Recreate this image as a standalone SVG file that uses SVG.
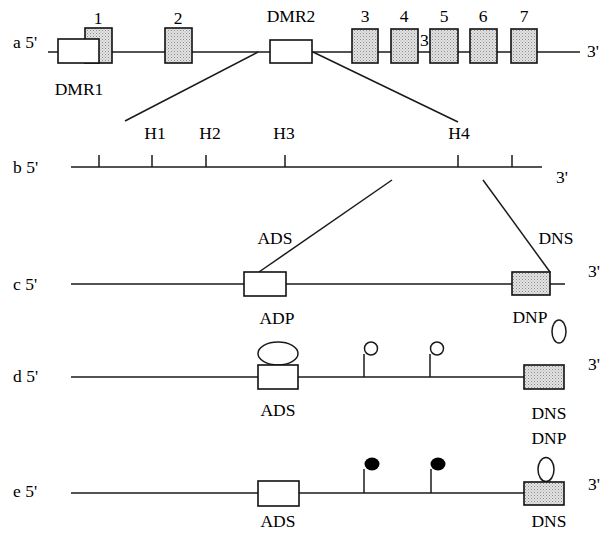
<svg xmlns="http://www.w3.org/2000/svg" width="611" height="533" viewBox="0 0 611 533">
<defs>
<pattern id="stip" width="3" height="3" patternUnits="userSpaceOnUse">
<rect width="3" height="3" fill="#e4e4e4"/>
<rect x="0" y="0" width="1" height="1" fill="#8a8a8a"/>
<rect x="1.5" y="1.5" width="1" height="1" fill="#a0a0a0"/>
</pattern>
</defs>
<style>
text{font-family:"Liberation Serif","Times New Roman",serif;font-size:17.5px;fill:#000}
.ln{stroke:#1a1a1a;stroke-width:1.5;fill:none}
.wb{fill:#fff;stroke:#111;stroke-width:1.6}
.sb{fill:url(#stip);stroke:#111;stroke-width:1.6}
.mid{text-anchor:middle}
</style>
<rect width="611" height="533" fill="#fff"/>

<g id="row-a">
<text x="13" y="48">a 5'</text>
<line class="ln" x1="48" y1="52" x2="580" y2="52"/>
<text x="587" y="57">3'</text>
</g>
<g id="exon1"><rect class="sb" x="85" y="28" width="27" height="35"/><text class="mid" x="98" y="24">1</text></g>
<g id="dmr1"><rect class="wb" x="58" y="39" width="41" height="24"/><text class="mid" x="79" y="95">DMR1</text></g>
<g id="exon2"><rect class="sb" x="165" y="28" width="27" height="35"/><text class="mid" x="178" y="24">2</text></g>
<g id="dmr2"><rect class="wb" x="270" y="40" width="42" height="23"/><text class="mid" x="291" y="22">DMR2</text></g>
<g id="exon3"><rect class="sb" x="352" y="29" width="26" height="34"/><text class="mid" x="365" y="22">3</text></g>
<g id="exon4"><rect class="sb" x="391" y="29" width="27" height="34"/><text class="mid" x="404" y="22">4</text><text x="420" y="46">3</text></g>
<g id="exon5"><rect class="sb" x="430" y="29" width="28" height="34"/><text class="mid" x="444" y="22">5</text></g>
<g id="exon6"><rect class="sb" x="470" y="29" width="27" height="34"/><text class="mid" x="483" y="22">6</text></g>
<g id="exon7"><rect class="sb" x="511" y="29" width="26" height="34"/><text class="mid" x="524" y="22">7</text></g>

<g id="row-b">
<text x="13" y="173">b 5'</text>
<line class="ln" x1="71" y1="167" x2="542" y2="167"/>
<line class="ln" x1="99" y1="155" x2="99" y2="167"/>
<line class="ln" x1="152" y1="155" x2="152" y2="167"/>
<line class="ln" x1="206" y1="155" x2="206" y2="167"/>
<line class="ln" x1="285" y1="155" x2="285" y2="167"/>
<line class="ln" x1="458" y1="155" x2="458" y2="167"/>
<line class="ln" x1="512" y1="155" x2="512" y2="167"/>
<text class="mid" x="155" y="139">H1</text>
<text class="mid" x="210" y="139">H2</text>
<text class="mid" x="284" y="139">H3</text>
<text class="mid" x="459" y="139">H4</text>
<text x="556" y="183">3'</text>
</g>

<g id="connectors">
<line class="ln" x1="258" y1="52" x2="125" y2="121"/>
<line class="ln" x1="313" y1="52" x2="458" y2="122"/>
<line class="ln" x1="392" y1="180" x2="259" y2="272"/>
<line class="ln" x1="483" y1="180" x2="550" y2="272"/>
</g>

<g id="row-c">
<text x="13" y="290">c 5'</text>
<line class="ln" x1="71" y1="284" x2="565" y2="284"/>
<text x="588" y="277">3'</text>
</g>
<g id="c-ads"><rect class="wb" x="244" y="272" width="42" height="24"/><text class="mid" x="275" y="244">ADS</text><text class="mid" x="277" y="324">ADP</text></g>
<g id="c-dns"><rect class="sb" x="512" y="272" width="38" height="23"/><text class="mid" x="556" y="244">DNS</text><text class="mid" x="530" y="323">DNP</text><ellipse class="ln" cx="559" cy="331.5" rx="7" ry="11.5"/></g>

<g id="row-d">
<text x="13" y="382">d 5'</text>
<line class="ln" x1="71" y1="377" x2="524" y2="377"/>
<text x="588" y="370">3'</text>
</g>
<g id="d-ads"><ellipse class="ln" cx="278" cy="353.5" rx="20" ry="11.5"/><rect class="wb" x="258" y="365" width="40" height="24"/><text class="mid" x="278" y="416">ADS</text></g>
<g id="d-meth1"><line class="ln" x1="364" y1="354" x2="364" y2="377"/><circle class="ln" cx="371" cy="348.5" r="6.5"/></g>
<g id="d-meth2"><line class="ln" x1="430" y1="354" x2="430" y2="377"/><circle class="ln" cx="437" cy="348.5" r="6.5"/></g>
<g id="d-dns"><rect class="sb" x="524" y="365" width="40" height="24"/><text class="mid" x="549" y="419">DNS</text></g>

<g id="row-e">
<text x="13" y="497">e 5'</text>
<line class="ln" x1="71" y1="493" x2="524" y2="493"/>
<text x="588" y="490">3'</text>
</g>
<g id="e-ads"><rect class="wb" x="258" y="481" width="41" height="25"/><text class="mid" x="278" y="527">ADS</text></g>
<g id="e-meth1"><line class="ln" x1="364" y1="469" x2="364" y2="493"/><ellipse cx="372" cy="464" rx="7.5" ry="6.5" fill="#000"/></g>
<g id="e-meth2"><line class="ln" x1="431" y1="469" x2="431" y2="493"/><ellipse cx="438" cy="464" rx="7.5" ry="6.5" fill="#000"/></g>
<g id="e-dns"><text class="mid" x="549" y="444">DNP</text><ellipse class="ln" cx="546" cy="469.5" rx="8" ry="12"/><rect class="sb" x="524" y="482" width="40" height="23"/><text class="mid" x="549" y="527">DNS</text></g>
</svg>
